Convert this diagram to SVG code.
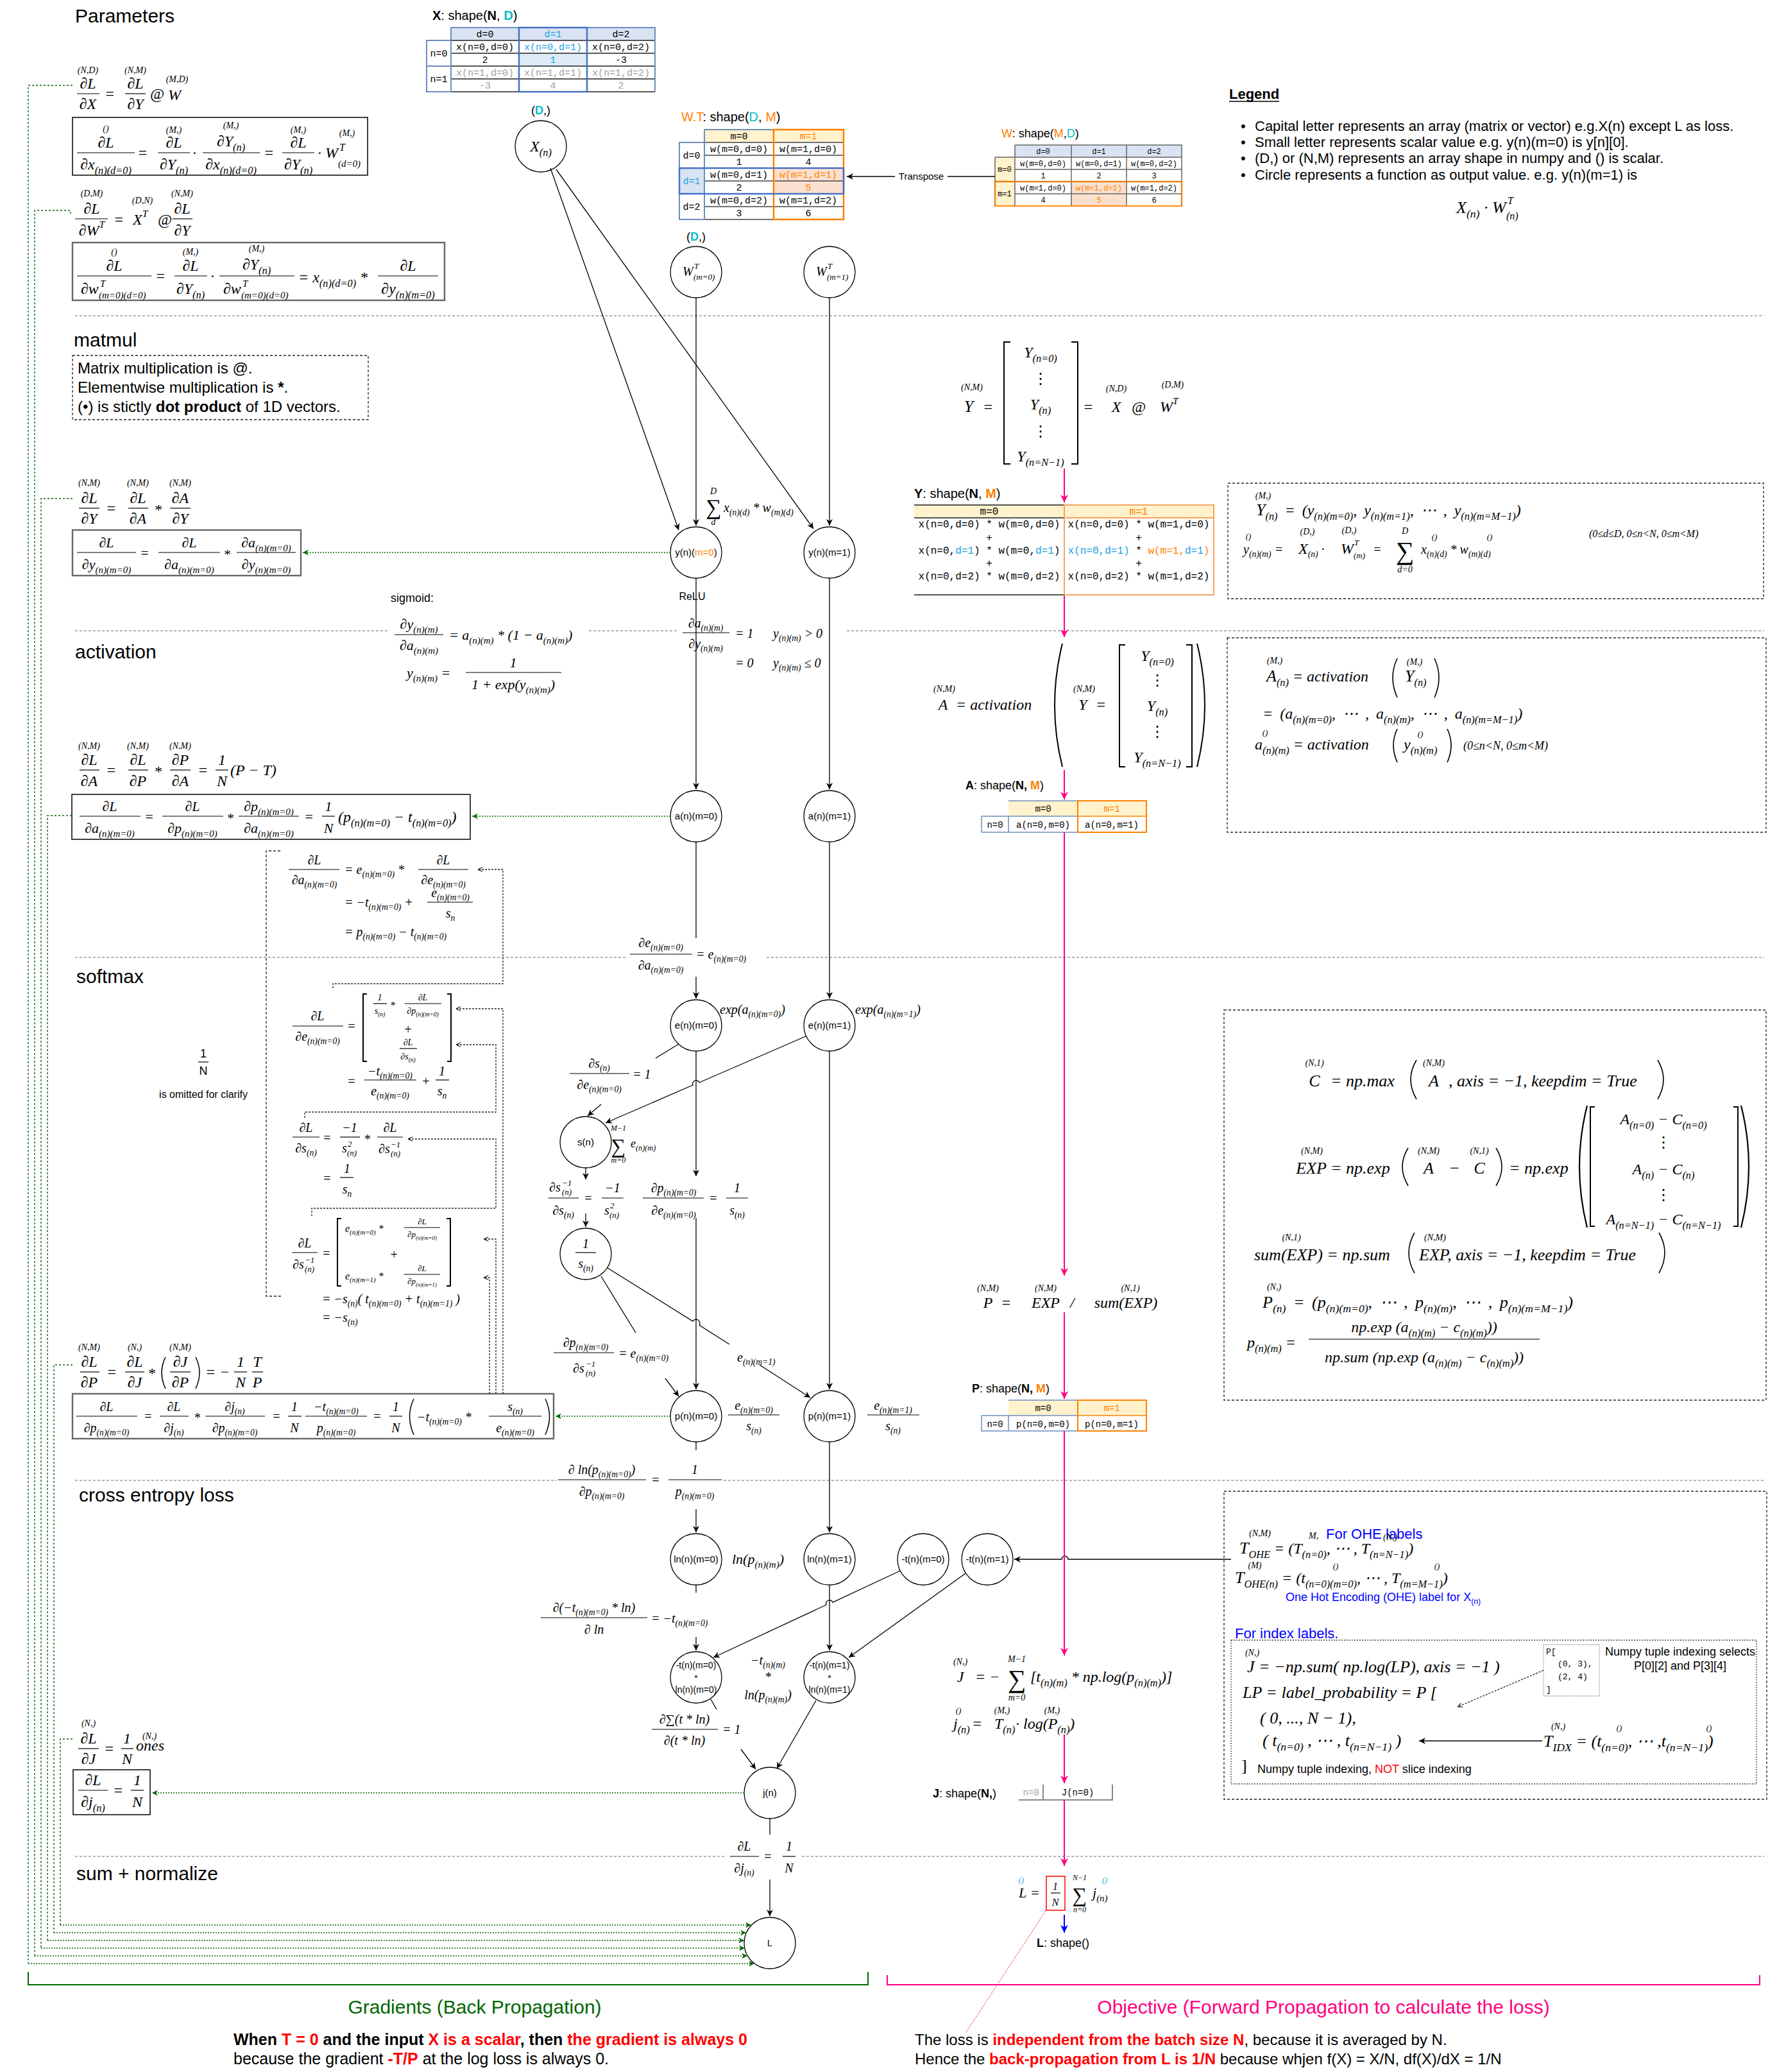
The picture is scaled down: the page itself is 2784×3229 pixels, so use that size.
<svg xmlns="http://www.w3.org/2000/svg" width="2784" height="3229" viewBox="0 0 2784 3229">
<defs>
<style>
text{fill:#000}
.t{font-family:"Liberation Sans",Arial,sans-serif}
.m{font-family:"Liberation Serif","Times New Roman",serif;font-style:italic}
.up{font-family:"Liberation Serif","Times New Roman",serif;font-style:normal}
.mono{font-family:"Liberation Mono","Courier New",monospace}
.f30{font-size:30px}.f28{font-size:28px}.f26{font-size:26px}.f24{font-size:24px}.f22{font-size:22px}.f20{font-size:20px}.f18{font-size:18px}.f16{font-size:16px}.f15{font-size:15px}.f14{font-size:14px}.f13{font-size:13px}.f12{font-size:12px}
.c{text-anchor:middle}
.b{font-size:68%;baseline-shift:-0.4em}
.p{font-size:65%;baseline-shift:0.8em}
.sh{font-size:14px}
.bd{font-weight:bold}
.fl{stroke:#000;stroke-width:1.2}
.node{fill:#fff;stroke:#000;stroke-width:1.3}
.e{fill:none;stroke:#000;stroke-width:1.3}
.ea{fill:none;stroke:#000;stroke-width:1.3;marker-end:url(#ab)}
.pk{fill:none;stroke:#FF0080;stroke-width:2;marker-end:url(#ap)}
.bla{fill:none;stroke:#0000FF;stroke-width:2;marker-end:url(#abl)}
.gd{fill:none;stroke:#006600;stroke-width:1.4;stroke-dasharray:3 3}
.gda{fill:none;stroke:#006600;stroke-width:1.6;stroke-dasharray:2 2;marker-end:url(#ag)}
.dk{fill:none;stroke:#222;stroke-width:1.3;stroke-dasharray:4 3}
.dka{fill:none;stroke:#222;stroke-width:1.3;stroke-dasharray:3 2;marker-end:url(#ad)}
.sep{stroke:#999;stroke-width:1.3;stroke-dasharray:4 3;fill:none}
.box{fill:none;stroke:#000;stroke-width:1.5}
.gbox{fill:none;stroke:#666;stroke-width:2.4}
.dbox{fill:none;stroke:#222;stroke-width:1.3;stroke-dasharray:4 3}
.brk{fill:none;stroke:#000;stroke-width:2}
.ws{word-spacing:5px}
.cy{fill:#00BFC8}.tb{fill:#1BA1E2}.or{fill:#FF8000}.rd{fill:#FF0000}.bl{fill:#0000FF}.gy{fill:#A0A0A0}.gr{fill:#006600}.pkt{fill:#FF0080}
</style>
<marker id="ab" viewBox="0 0 10 10" refX="10" refY="5" markerWidth="10" markerHeight="10" markerUnits="userSpaceOnUse" orient="auto"><path d="M0,0 L10,5 L0,10 L3,5 z" fill="#000"/></marker>
<marker id="ap" viewBox="0 0 10 10" refX="10" refY="5" markerWidth="12" markerHeight="12" markerUnits="userSpaceOnUse" orient="auto"><path d="M0,0 L10,5 L0,10 L3,5 z" fill="#FF0080"/></marker>
<marker id="abl" viewBox="0 0 10 10" refX="10" refY="5" markerWidth="12" markerHeight="12" markerUnits="userSpaceOnUse" orient="auto"><path d="M0,0 L10,5 L0,10 L3,5 z" fill="#0000FF"/></marker>
<marker id="ag" viewBox="0 0 10 10" refX="10" refY="5" markerWidth="9" markerHeight="9" markerUnits="userSpaceOnUse" orient="auto"><path d="M0,0 L10,5 L0,10 L3,5 z" fill="#006600"/></marker>
<marker id="ad" viewBox="0 0 10 10" refX="10" refY="5" markerWidth="8" markerHeight="8" markerUnits="userSpaceOnUse" orient="auto"><path d="M1,1 L10,5 L1,9" fill="none" stroke="#222" stroke-width="1.5"/></marker>
</defs>
<rect width="2784" height="3229" fill="#fff"/>

<g id="separators">
<line class="sep" x1="117" y1="492" x2="2750" y2="492"/>
<path class="sep" d="M117,983H606M918,983H1055M1320,983H2750"/>
<path class="sep" d="M117,1492H975M1195,1492H2750"/>
<path class="sep" d="M117,2307H868M1128,2307H2750"/>
<path class="sep" d="M117,2893H1132M1250,2893H2750"/>
</g>

<g id="titles" class="t">
<text class="f30" x="117" y="35">Parameters</text>
<text class="f30" x="115" y="540">matmul</text>
<text class="f30" x="117" y="1026">activation</text>
<text class="f30" x="119" y="1532">softmax</text>
<text class="f30" x="123" y="2340">cross entropy loss</text>
<text class="f30" x="119" y="2930">sum + normalize</text>
</g>

<!-- top-left gradients -->
<g id="f-dLdX" class="m f24">
<text class="sh c" x="137" y="114">(N,D)</text>
<text class="c" x="137" y="138">∂L</text><line class="fl" x1="120" y1="146" x2="155" y2="146"/><text class="c" x="137" y="170">∂X</text>
<text x="163" y="154">=</text>
<text class="sh c" x="211" y="114">(N,M)</text>
<text class="c" x="211" y="138">∂L</text><line class="fl" x1="195" y1="146" x2="227" y2="146"/><text class="c" x="211" y="170">∂Y</text>
<text x="234" y="154">@</text>
<text x="262" y="156">W</text><text class="sh c" x="276" y="128">(M,D)</text>
</g>
<g id="f-box-dx" class="m f24">
<rect class="box" x="113" y="183" width="460" height="90"/>
<text class="sh c" x="165" y="205">()</text>
<text class="c" x="165" y="230">∂L</text><line class="fl" x1="120" y1="238" x2="210" y2="238"/><text class="c" x="165" y="264">∂x<tspan class="b">(n)(d=0)</tspan></text>
<text x="214" y="246">=</text>
<text class="sh c" x="271" y="207">(M,)</text>
<text class="c" x="271" y="230">∂L</text><line class="fl" x1="246" y1="238" x2="296" y2="238"/><text class="c" x="271" y="264">∂Y<tspan class="b">(n)</tspan></text>
<text x="300" y="246">·</text>
<text class="sh c" x="360" y="200">(M,)</text>
<text class="c" x="360" y="228">∂Y<tspan class="b">(n)</tspan></text><line class="fl" x1="316" y1="238" x2="405" y2="238"/><text class="c" x="360" y="264">∂x<tspan class="b">(n)(d=0)</tspan></text>
<text x="411" y="246">=</text>
<text class="sh c" x="465" y="207">(M,)</text>
<text class="c" x="465" y="230">∂L</text><line class="fl" x1="440" y1="238" x2="490" y2="238"/><text class="c" x="465" y="264">∂Y<tspan class="b">(n)</tspan></text>
<text x="495" y="246">· W</text><text class="f16" x="529" y="235">T</text><text class="f15" x="527" y="260">(d=0)</text><text class="sh c" x="541" y="212">(M,)</text>
</g>
<g id="f-dLdW" class="m f24">
<text class="sh c" x="143" y="306">(D,M)</text>
<text class="c" x="143" y="333">∂L</text><line class="fl" x1="117" y1="341" x2="168" y2="341"/><text class="c" x="143" y="367">∂W<tspan class="p">T</tspan></text>
<text x="177" y="350">=</text>
<text class="sh c" x="222" y="317">(D,N)</text>
<text x="207" y="350">X<tspan class="p">T</tspan></text>
<text x="246" y="350">@</text>
<text class="sh c" x="284" y="306">(N,M)</text>
<text class="c" x="284" y="333">∂L</text><line class="fl" x1="269" y1="341" x2="300" y2="341"/><text class="c" x="284" y="367">∂Y</text>
</g>
<g id="f-box-dw" class="m f24">
<rect class="gbox" x="113" y="378" width="580" height="90"/>
<text class="sh c" x="178" y="397">()</text>
<text class="c" x="178" y="422">∂L</text><line class="fl" x1="120" y1="430" x2="236" y2="430"/>
<text x="126" y="458">∂w</text><text class="f15" x="156" y="447">T</text><text class="f15" x="154" y="465">(m=0)(d=0)</text>
<text x="242" y="438">=</text>
<text class="sh c" x="297" y="397">(M,)</text>
<text class="c" x="297" y="422">∂L</text><line class="fl" x1="272" y1="430" x2="323" y2="430"/><text class="c" x="297" y="458">∂Y<tspan class="b">(n)</tspan></text>
<text x="328" y="438">·</text>
<text class="sh c" x="400" y="392">(M,)</text>
<text class="c" x="400" y="420">∂Y<tspan class="b">(n)</tspan></text><line class="fl" x1="342" y1="430" x2="459" y2="430"/>
<text x="348" y="458">∂w</text><text class="f15" x="378" y="447">T</text><text class="f15" x="376" y="465">(m=0)(d=0)</text>
<text x="465" y="440">= x<tspan class="b">(n)(d=0)</tspan> *</text>
<text class="c" x="636" y="422">∂L</text><line class="fl" x1="589" y1="430" x2="683" y2="430"/><text class="c" x="636" y="458">∂y<tspan class="b">(n)(m=0)</tspan></text>
</g>

<!-- matmul -->
<g id="matmul-note" class="t f24">
<rect class="dbox" x="113" y="554" width="461" height="100"/>
<text x="121" y="582">Matrix multiplication is @.</text>
<text x="121" y="612">Elementwise multiplication is <tspan class="bd">*</tspan>.</text>
<text x="121" y="642">(•) is stictly <tspan class="bd">dot product</tspan> of 1D vectors.</text>
</g>
<g id="f-dLdY" class="m f24">
<text class="sh c" x="139" y="757">(N,M)</text>
<text class="c" x="139" y="784">∂L</text><line class="fl" x1="123" y1="792" x2="155" y2="792"/><text class="c" x="139" y="816">∂Y</text>
<text x="165" y="800">=</text>
<text class="sh c" x="215" y="757">(N,M)</text>
<text class="c" x="215" y="784">∂L</text><line class="fl" x1="200" y1="792" x2="231" y2="792"/><text class="c" x="215" y="816">∂A</text>
<text x="240" y="802">*</text>
<text class="sh c" x="281" y="757">(N,M)</text>
<text class="c" x="281" y="784">∂A</text><line class="fl" x1="265" y1="792" x2="297" y2="792"/><text class="c" x="281" y="816">∂Y</text>
</g>
<g id="f-box-dy" class="m f22">
<rect class="gbox" x="113" y="826" width="356" height="71"/>
<text class="c" x="166" y="853">∂L</text><line class="fl" x1="120" y1="861" x2="212" y2="861"/><text class="c" x="166" y="887">∂y<tspan class="b">(n)(m=0)</tspan></text>
<text x="218" y="869">=</text>
<text class="c" x="295" y="853">∂L</text><line class="fl" x1="247" y1="861" x2="343" y2="861"/><text class="c" x="295" y="887">∂a<tspan class="b">(n)(m=0)</tspan></text>
<text x="348" y="871">*</text>
<text class="c" x="415" y="853">∂a<tspan class="b">(n)(m=0)</tspan></text><line class="fl" x1="369" y1="861" x2="461" y2="861"/><text class="c" x="415" y="887">∂y<tspan class="b">(n)(m=0)</tspan></text>
</g>

<!-- activation formulas -->
<g id="f-sigmoid" class="m f22">
<text class="t f18" x="609" y="938" style="font-style:normal">sigmoid:</text>
<text class="c" x="653" y="980">∂y<tspan class="b">(n)(m)</tspan></text><line class="fl" x1="615" y1="989" x2="691" y2="989"/><text class="c" x="653" y="1013">∂a<tspan class="b">(n)(m)</tspan></text>
<text x="700" y="997">= a<tspan class="b">(n)(m)</tspan> * (1 − a<tspan class="b">(n)(m)</tspan>)</text>
<text x="634" y="1056">y<tspan class="b">(n)(m)</tspan> =</text>
<text class="c" x="800" y="1040">1</text><line class="fl" x1="726" y1="1048" x2="875" y2="1048"/><text class="c" x="800" y="1074">1 + exp(y<tspan class="b">(n)(m)</tspan>)</text>
</g>
<g id="f-relu" class="m f20">
<text class="c" x="1100" y="978">∂a<tspan class="b">(n)(m)</tspan></text><line class="fl" x1="1064" y1="986" x2="1137" y2="986"/><text class="c" x="1100" y="1010">∂y<tspan class="b">(n)(m)</tspan></text>
<text x="1146" y="994">= 1</text><text x="1205" y="994">y<tspan class="b">(n)(m)</tspan> &gt; 0</text>
<text x="1146" y="1040">= 0</text><text x="1205" y="1040">y<tspan class="b">(n)(m)</tspan> ≤ 0</text>
</g>
<g id="f-dLdA" class="m f24">
<text class="sh c" x="139" y="1167">(N,M)</text>
<text class="c" x="139" y="1192">∂L</text><line class="fl" x1="124" y1="1200" x2="155" y2="1200"/><text class="c" x="139" y="1225">∂A</text>
<text x="165" y="1208">=</text>
<text class="sh c" x="215" y="1167">(N,M)</text>
<text class="c" x="215" y="1192">∂L</text><line class="fl" x1="200" y1="1200" x2="231" y2="1200"/><text class="c" x="215" y="1225">∂P</text>
<text x="240" y="1210">*</text>
<text class="sh c" x="281" y="1167">(N,M)</text>
<text class="c" x="281" y="1192">∂P</text><line class="fl" x1="265" y1="1200" x2="297" y2="1200"/><text class="c" x="281" y="1225">∂A</text>
<text x="308" y="1208">=</text>
<text class="c" x="346" y="1192">1</text><line class="fl" x1="336" y1="1200" x2="356" y2="1200"/><text class="c" x="346" y="1225">N</text>
<text x="359" y="1208">(P − T)</text>
</g>
<g id="f-box-da" class="m f22">
<rect class="box" x="112" y="1238" width="621" height="70"/>
<text class="c" x="171" y="1264">∂L</text><line class="fl" x1="124" y1="1272" x2="219" y2="1272"/><text class="c" x="171" y="1298">∂a<tspan class="b">(n)(m=0)</tspan></text>
<text x="225" y="1280">=</text>
<text class="c" x="300" y="1264">∂L</text><line class="fl" x1="253" y1="1272" x2="348" y2="1272"/><text class="c" x="300" y="1298">∂p<tspan class="b">(n)(m=0)</tspan></text>
<text x="353" y="1282">*</text>
<text class="c" x="419" y="1264">∂p<tspan class="b">(n)(m=0)</tspan></text><line class="fl" x1="372" y1="1272" x2="466" y2="1272"/><text class="c" x="419" y="1298">∂a<tspan class="b">(n)(m=0)</tspan></text>
<text x="474" y="1280">=</text>
<text class="c" x="512" y="1264">1</text><line class="fl" x1="502" y1="1272" x2="522" y2="1272"/><text class="c" x="512" y="1298">N</text>
<text class="f24" x="527" y="1281">(p<tspan class="b">(n)(m=0)</tspan> − t<tspan class="b">(n)(m=0)</tspan>)</text>
</g>
<g id="f-deriv-da" class="m f20">
<text class="c" x="490" y="1347">∂L</text><line class="fl" x1="450" y1="1355" x2="529" y2="1355"/><text class="c" x="490" y="1378">∂a<tspan class="b">(n)(m=0)</tspan></text>
<text x="537" y="1362">= e<tspan class="b">(n)(m=0)</tspan> *</text>
<text class="c" x="691" y="1347">∂L</text><line class="fl" x1="652" y1="1355" x2="730" y2="1355"/><text class="c" x="691" y="1378">∂e<tspan class="b">(n)(m=0)</tspan></text>
<text x="537" y="1413">= −t<tspan class="b">(n)(m=0)</tspan> +</text>
<text class="c" x="702" y="1398">e<tspan class="b">(n)(m=0)</tspan></text><line class="fl" x1="666" y1="1406" x2="737" y2="1406"/><text class="c" x="702" y="1430">s<tspan class="b">n</tspan></text>
<text x="537" y="1459">= p<tspan class="b">(n)(m=0)</tspan> − t<tspan class="b">(n)(m=0)</tspan></text>
</g>

<!-- softmax derivations -->
<g id="note-clarify" class="t">
<text class="f18 c" x="317" y="1648">1</text><line class="fl" x1="309" y1="1655" x2="325" y2="1655"/><text class="f18 c" x="317" y="1675">N</text>
<text class="f16 c" x="317" y="1711">is omitted for clarify</text>
</g>
<g id="f-deriv-de" class="m f20">
<text class="c" x="495" y="1590">∂L</text><line class="fl" x1="456" y1="1599" x2="535" y2="1599"/><text class="c" x="495" y="1622">∂e<tspan class="b">(n)(m=0)</tspan></text>
<text x="541" y="1606">=</text>
<path class="brk" d="M572,1549H566V1654H572M697,1549H703V1654H697"/>
<text class="f14 c" x="592" y="1559">1</text><line class="fl" x1="582" y1="1564" x2="603" y2="1564"/><text class="f14 c" x="592" y="1580">s<tspan class="b">(n)</tspan></text>
<text class="f16" x="608" y="1572">*</text>
<text class="f14 c" x="659" y="1559">∂L</text><line class="fl" x1="631" y1="1564" x2="688" y2="1564"/><text class="f14 c" x="659" y="1580">∂p<tspan class="b">(n)(m=0)</tspan></text>
<text class="c" x="636" y="1611">+</text>
<text class="f14 c" x="636" y="1629">∂L</text><line class="fl" x1="623" y1="1634" x2="650" y2="1634"/><text class="f14 c" x="636" y="1651">∂s<tspan class="b">(n)</tspan></text>
<text x="541" y="1692">=</text>
<text class="c" x="608" y="1676">−t<tspan class="b">(n)(m=0)</tspan></text><line class="fl" x1="568" y1="1683" x2="649" y2="1683"/><text class="c" x="608" y="1707">e<tspan class="b">(n)(m=0)</tspan></text>
<text x="657" y="1692">+</text>
<text class="c" x="689" y="1676">1</text><line class="fl" x1="679" y1="1683" x2="700" y2="1683"/><text class="c" x="689" y="1707">s<tspan class="b">n</tspan></text>
</g>
<g id="f-deriv-ds" class="m f20">
<text class="c" x="477" y="1764">∂L</text><line class="fl" x1="456" y1="1772" x2="498" y2="1772"/><text class="c" x="477" y="1796">∂s<tspan class="b">(n)</tspan></text>
<text x="503" y="1780">=</text>
<text class="c" x="545" y="1764">−1</text><line class="fl" x1="530" y1="1772" x2="561" y2="1772"/><text x="533" y="1796">s</text><text class="f13" x="542" y="1787">2</text><text class="f13" x="541" y="1801">(n)</text>
<text x="567" y="1782">*</text>
<text class="c" x="608" y="1764">∂L</text><line class="fl" x1="588" y1="1772" x2="628" y2="1772"/><text x="590" y="1797">∂s</text><text class="f13" x="609" y="1788">−1</text><text class="f13" x="609" y="1802">(n)</text>
<text x="503" y="1843">=</text>
<text class="c" x="541" y="1828">1</text><line class="fl" x1="530" y1="1835" x2="551" y2="1835"/><text class="c" x="541" y="1860">s<tspan class="b">n</tspan></text>
</g>
<g id="f-deriv-dsinv" class="m f20">
<text class="c" x="475" y="1944">∂L</text><line class="fl" x1="455" y1="1952" x2="495" y2="1952"/><text x="456" y="1977">∂s</text><text class="f13" x="475" y="1968">−1</text><text class="f13" x="475" y="1982">(n)</text>
<text x="502" y="1960">=</text>
<path class="brk" d="M532,1899H526V2004H532M696,1899H702V2004H696"/>
<text class="f16" x="538" y="1920">e<tspan class="b">(n)(m=0)</tspan> *</text>
<text class="f13 c" x="658" y="1908">∂L</text><line class="fl" x1="630" y1="1913" x2="686" y2="1913"/><text class="f13 c" x="658" y="1928">∂p<tspan class="b">(n)(m=0)</tspan></text>
<text class="c" x="614" y="1962">+</text>
<text class="f16" x="538" y="1994">e<tspan class="b">(n)(m=1)</tspan> *</text>
<text class="f13 c" x="658" y="1981">∂L</text><line class="fl" x1="630" y1="1986" x2="686" y2="1986"/><text class="f13 c" x="658" y="2001">∂p<tspan class="b">(n)(m=1)</tspan></text>
<text x="502" y="2031">= −s<tspan class="b">(n)</tspan>( t<tspan class="b">(n)(m=0)</tspan> + t<tspan class="b">(n)(m=1)</tspan> )</text>
<text x="502" y="2060">= −s<tspan class="b">(n)</tspan></text>
</g>
<g id="f-dLdP" class="m f24">
<text class="sh c" x="139" y="2104">(N,M)</text>
<text class="c" x="139" y="2130">∂L</text><line class="fl" x1="125" y1="2138" x2="155" y2="2138"/><text class="c" x="139" y="2162">∂P</text>
<text x="166" y="2146">=</text>
<text class="sh c" x="210" y="2104">(N,)</text>
<text class="c" x="210" y="2130">∂L</text><line class="fl" x1="195" y1="2138" x2="225" y2="2138"/><text class="c" x="210" y="2162">∂J</text>
<text x="230" y="2148">*</text>
<path class="brk" d="M258,2115Q246,2139 258,2164M305,2115Q317,2139 305,2164" style="stroke-width:1.5"/>
<text class="sh c" x="281" y="2104">(N,M)</text>
<text class="c" x="281" y="2130">∂J</text><line class="fl" x1="265" y1="2138" x2="297" y2="2138"/><text class="c" x="281" y="2162">∂P</text>
<text x="320" y="2146">= −</text>
<text class="c" x="375" y="2130">1</text><line class="fl" x1="365" y1="2138" x2="385" y2="2138"/><text class="c" x="375" y="2162">N</text>
<text class="c" x="401" y="2130">T</text><line class="fl" x1="393" y1="2138" x2="410" y2="2138"/><text class="c" x="401" y="2162">P</text>
</g>
<g id="f-box-dp" class="m f20">
<rect class="gbox" x="113" y="2172" width="750" height="70"/>
<text class="c" x="166" y="2199">∂L</text><line class="fl" x1="119" y1="2207" x2="214" y2="2207"/><text class="c" x="166" y="2232">∂p<tspan class="b">(n)(m=0)</tspan></text>
<text x="224" y="2214">=</text>
<text class="c" x="271" y="2199">∂L</text><line class="fl" x1="249" y1="2207" x2="294" y2="2207"/><text class="c" x="271" y="2232">∂j<tspan class="b">(n)</tspan></text>
<text x="302" y="2216">*</text>
<text class="c" x="366" y="2199">∂j<tspan class="b">(n)</tspan></text><line class="fl" x1="320" y1="2207" x2="413" y2="2207"/><text class="c" x="366" y="2232">∂p<tspan class="b">(n)(m=0)</tspan></text>
<text x="424" y="2214">=</text>
<text class="c" x="459" y="2199">1</text><line class="fl" x1="449" y1="2207" x2="470" y2="2207"/><text class="c" x="459" y="2232">N</text>
<text class="c" x="524" y="2199">−t<tspan class="b">(n)(m=0)</tspan></text><line class="fl" x1="476" y1="2207" x2="572" y2="2207"/><text class="c" x="524" y="2232">p<tspan class="b">(n)(m=0)</tspan></text>
<text x="581" y="2214">=</text>
<text class="c" x="617" y="2199">1</text><line class="fl" x1="607" y1="2207" x2="627" y2="2207"/><text class="c" x="617" y="2232">N</text>
<path class="brk" d="M645,2180Q632,2207 645,2236M850,2180Q863,2207 850,2236" style="stroke-width:1.5"/>
<text x="650" y="2215">−t<tspan class="b">(n)(m=0)</tspan> *</text>
<text class="c" x="803" y="2199">s<tspan class="b">(n)</tspan></text><line class="fl" x1="762" y1="2207" x2="844" y2="2207"/><text class="c" x="803" y="2232">e<tspan class="b">(n)(m=0)</tspan></text>
</g>
<g id="f-dLdJ" class="m f24">
<text class="sh c" x="138" y="2690">(N,)</text>
<text class="c" x="138" y="2717">∂L</text><line class="fl" x1="122" y1="2725" x2="154" y2="2725"/><text class="c" x="138" y="2749">∂J</text>
<text x="162" y="2733">=</text>
<text class="c" x="198" y="2717">1</text><line class="fl" x1="189" y1="2725" x2="208" y2="2725"/><text class="c" x="198" y="2749">N</text>
<text x="212" y="2728">ones</text><text class="sh c" x="233" y="2710">(N,)</text>
</g>
<g id="f-box-dj" class="m f24">
<rect class="box" x="114" y="2758" width="120" height="70"/>
<text class="c" x="145" y="2782">∂L</text><line class="fl" x1="122" y1="2790" x2="168" y2="2790"/><text class="c" x="145" y="2816">∂j<tspan class="b">(n)</tspan></text>
<text x="176" y="2798">=</text>
<text class="c" x="214" y="2782">1</text><line class="fl" x1="204" y1="2790" x2="224" y2="2790"/><text class="c" x="214" y="2816">N</text>
</g>

<!-- dashed derivation links -->
<g id="derivation-links">
<path class="dk" d="M437,1326H415V2020H439"/>
<path class="dka" d="M519,1540V1533H784V1355H745"/>
<path class="dka" d="M784,2172V1572H711"/>
<path class="dka" d="M475,1742V1733H773V1628H711"/>
<path class="dka" d="M486,1895V1883H773V1775H636"/>
<path class="dka" d="M773,2172V1931H754"/>
<path class="dka" d="M763,2172V1991H754"/>
</g>

<!-- top tables -->
<g id="table-X" class="mono f15">
<text class="t f20" x="674" y="31" style="font-family:'Liberation Sans',Arial,sans-serif"><tspan class="bd">X</tspan>: shape(<tspan class="bd">N</tspan>, <tspan class="bd cy">D</tspan>)</text>
<rect x="703" y="43" width="318" height="20" fill="#DAE3F3"/>
<rect x="809" y="83" width="106" height="20" fill="#DDEBF7"/>
<path d="M703,63H1021M703,83H1021M703,103H1021M703,123H1021M703,143H1021" stroke="#222" stroke-width="1.5"/>
<path d="M703,43H1021V63M665,63H703V143H665ZM665,103H703M703,43V143M1021,63V143" fill="none" stroke="#6C8EBF" stroke-width="2"/>
<rect x="809" y="43" width="106" height="100" fill="none" stroke="#4472C4" stroke-width="2.5"/>
<text class="c" x="756" y="58">d=0</text><text class="c tb" x="862" y="58">d=1</text><text class="c" x="968" y="58">d=2</text>
<text class="c" x="684" y="88">n=0</text><text class="c" x="684" y="128">n=1</text>
<text class="c" x="756" y="78">x(n=0,d=0)</text><text class="c tb" x="862" y="78">x(n=0,d=1)</text><text class="c" x="968" y="78">x(n=0,d=2)</text>
<text class="c" x="756" y="98">2</text><text class="c tb" x="862" y="98">1</text><text class="c" x="968" y="98">-3</text>
<text class="c gy" x="756" y="118">x(n=1,d=0)</text><text class="c gy" x="862" y="118">x(n=1,d=1)</text><text class="c gy" x="968" y="118">x(n=1,d=2)</text>
<text class="c gy" x="756" y="138">-3</text><text class="c gy" x="862" y="138">4</text><text class="c gy" x="968" y="138">2</text>
</g>
<g id="table-WT" class="mono f15">
<text class="f20" x="1062" y="189" style="font-family:'Liberation Sans',Arial,sans-serif"><tspan class="or">W.T</tspan>: shape(<tspan class="cy">D</tspan>, <tspan class="or">M</tspan>)</text>
<rect x="1098" y="202" width="217" height="20" fill="#FFF2CC"/>
<rect x="1059" y="262" width="39" height="40" fill="#DAE3F3"/>
<rect x="1206" y="262" width="109" height="40" fill="#FBE0D0"/>
<path d="M1098,222H1315M1098,242H1315M1098,262H1315M1098,282H1315M1098,302H1315M1098,322H1315M1098,342H1315" stroke="#444" stroke-width="1.3"/>
<path d="M1098,202V342M1059,222H1098V342H1059ZM1059,262H1098M1059,302H1098M1098,202H1206V222" fill="none" stroke="#6C8EBF" stroke-width="2"/>
<rect x="1206" y="202" width="109" height="140" fill="none" stroke="#FF8000" stroke-width="2.5"/>
<rect x="1059" y="262" width="256" height="40" fill="none" stroke="#4472C4" stroke-width="2.5"/>
<text class="c" x="1152" y="217">m=0</text><text class="c or" x="1260" y="217">m=1</text>
<text class="c" x="1078" y="247">d=0</text><text class="c tb" x="1078" y="287">d=1</text><text class="c" x="1078" y="327">d=2</text>
<text class="c" x="1152" y="237">w(m=0,d=0)</text><text class="c" x="1152" y="257">1</text>
<text class="c" x="1260" y="237">w(m=1,d=0)</text><text class="c" x="1260" y="257">4</text>
<text class="c" x="1152" y="277">w(m=0,d=1)</text><text class="c" x="1152" y="297">2</text>
<text class="c or" x="1260" y="277">w(m=1,d=1)</text><text class="c or" x="1260" y="297">5</text>
<text class="c" x="1152" y="317">w(m=0,d=2)</text><text class="c" x="1152" y="337">3</text>
<text class="c" x="1260" y="317">w(m=1,d=2)</text><text class="c" x="1260" y="337">6</text>
</g>
<g id="table-W" class="mono f12">
<text class="f18" x="1561" y="214" style="font-family:'Liberation Sans',Arial,sans-serif"><tspan class="or">W</tspan>: shape(<tspan class="or">M</tspan>,<tspan class="cy">D</tspan>)</text>
<rect x="1582" y="226" width="260" height="19" fill="#DAE3F3"/>
<rect x="1551" y="245" width="31" height="76" fill="#FFF2CC"/>
<rect x="1670" y="283" width="86" height="38" fill="#FBE0D0"/>
<path d="M1582,226H1842V321M1582,245H1842M1582,264H1842M1551,283H1842M1582,302H1842M1551,245H1582M1582,226V321M1670,226V321M1756,226V321M1551,245V321" fill="none" stroke="#666" stroke-width="1.5"/>
<rect x="1551" y="283" width="291" height="38" fill="none" stroke="#FF8000" stroke-width="2.5" stroke-opacity="0.8"/>
<g fill="#555">
<text class="c" x="1626" y="240" fill="#555">d=0</text><text class="c" x="1713" y="240">d=1</text><text class="c" x="1799" y="240">d=2</text>
<text class="c" x="1566" y="268">m=0</text><text class="c" x="1566" y="306">m=1</text>
<text class="c" x="1626" y="259">w(m=0,d=0)</text><text class="c" x="1713" y="259">w(m=0,d=1)</text><text class="c" x="1799" y="259">w(m=0,d=2)</text>
<text class="c" x="1626" y="278">1</text><text class="c" x="1713" y="278">2</text><text class="c" x="1799" y="278">3</text>
<text class="c" x="1626" y="297">w(m=1,d=0)</text><text class="c or" x="1713" y="297">w(m=1,d=1)</text><text class="c" x="1799" y="297">w(m=1,d=2)</text>
<text class="c" x="1626" y="316">4</text><text class="c or" x="1713" y="316">5</text><text class="c" x="1799" y="316">6</text>
</g>
</g>
<g id="transpose">
<line class="ea" x1="1551" y1="275" x2="1320" y2="275"/>
<rect x="1395" y="265" width="82" height="20" fill="#fff"/>
<text class="t f15 c" x="1436" y="280">Transpose</text>
</g>
<g id="legend" class="t f22">
<text class="bd" x="1916" y="154">Legend</text><line x1="1916" y1="158" x2="1994" y2="158" stroke="#000" stroke-width="1.5"/>
<text x="1934" y="204">•</text><text x="1956" y="204">Capital letter represents an array (matrix or vector) e.g.X(n) except L as loss.</text>
<text x="1934" y="229">•</text><text x="1956" y="229">Small letter represents scalar value e.g. y(n)(m=0) is y[n][0].</text>
<text x="1934" y="254">•</text><text x="1956" y="254">(D,) or (N,M) represents an array shape in numpy and () is scalar.</text>
<text x="1934" y="280">•</text><text x="1956" y="280">Circle represents a function as output value. e.g. y(n)(m=1) is</text>
<text class="m f26" x="2270" y="332">X<tspan class="b">(n)</tspan> · W</text><text class="m f16" x="2350" y="318">T</text><text class="m f16" x="2348" y="342">(n)</text>
</g>

<!-- forward: Y -->
<g id="f-Y" class="m f24">
<text class="sh c" x="1515" y="608">(N,M)</text><text class="f26 c" x="1510" y="642">Y</text><text x="1532" y="642">=</text>
<path class="brk" d="M1575,533H1565V723H1575M1670,533H1680V723H1670"/>
<text class="c" x="1622" y="557">Y<tspan class="b">(n=0)</tspan></text>
<text class="c up" x="1622" y="598">⋮</text>
<text class="c" x="1622" y="638">Y<tspan class="b">(n)</tspan></text>
<text class="c up" x="1622" y="680">⋮</text>
<text class="c" x="1622" y="719">Y<tspan class="b">(n=N−1)</tspan></text>
<text x="1688" y="642">=</text>
<text class="sh c" x="1740" y="610">(N,D)</text><text class="c" x="1740" y="642">X</text>
<text x="1764" y="642">@</text>
<text class="sh c" x="1828" y="604">(D,M)</text><text x="1808" y="642">W<tspan class="p">T</tspan></text>
</g>
<g id="table-Y" class="mono f16">
<text class="t f20" x="1425" y="776" style="font-family:'Liberation Sans',Arial,sans-serif"><tspan class="bd">Y</tspan>: shape(<tspan class="bd">N</tspan>, <tspan class="bd or">M</tspan>)</text>
<rect x="1425" y="787" width="467" height="20" fill="#FFF2CC"/>
<path d="M1425,787H1659M1425,807H1659M1425,927H1659" stroke="#555" stroke-width="2" fill="none"/>
<rect x="1659" y="787" width="233" height="140" fill="none" stroke="#F4A460" stroke-width="2"/>
<line x1="1659" y1="807" x2="1892" y2="807" stroke="#F4A460" stroke-width="2"/>
<text class="c" x="1542" y="802">m=0</text><text class="c or" x="1775" y="802">m=1</text>
<text class="c" x="1542" y="822">x(n=0,d=0) * w(m=0,d=0)</text>
<text class="c" x="1542" y="843">+</text>
<text class="c" x="1542" y="863">x(n=0,<tspan class="tb">d=1</tspan>) * w(m=0,<tspan class="tb">d=1</tspan>)</text>
<text class="c" x="1542" y="883">+</text>
<text class="c" x="1542" y="903">x(n=0,d=2) * w(m=0,d=2)</text>
<text class="c" x="1775" y="822">x(n=0,d=0) * w(m=1,d=0)</text>
<text class="c" x="1775" y="843">+</text>
<text class="c" x="1775" y="863"><tspan class="tb">x(n=0,d=1)</tspan> * <tspan class="or">w(m=1,</tspan><tspan class="tb">d=1</tspan><tspan class="or">)</tspan></text>
<text class="c" x="1775" y="883">+</text>
<text class="c" x="1775" y="903">x(n=0,d=2) * w(m=1,d=2)</text>
</g>
<g id="box-Yn" class="m f20">
<rect class="dbox" x="1914" y="753" width="835" height="180"/>
<text class="sh c" x="1969" y="777">(M,)</text>
<text class="f24 ws" x="1958" y="803"><tspan class="f26">Y</tspan><tspan class="b">(n)</tspan> = (y<tspan class="b">(n)(m=0)</tspan>, y<tspan class="b">(n)(m=1)</tspan>, ⋯ , y<tspan class="b">(n)(m=M−1)</tspan>)</text>
<text class="f13 c" x="1946" y="840">()</text>
<text x="1938" y="863">y<tspan class="b">(n)(m)</tspan> =</text>
<text class="sh c" x="2038" y="833">(D,)</text><text x="2024" y="863"><tspan class="f24">X</tspan><tspan class="b">(n)</tspan> ·</text>
<text class="sh c" x="2103" y="831">(D,)</text><text class="f24" x="2090" y="863">W</text><text class="f13" x="2111" y="850">T</text><text class="f13" x="2110" y="870">(m)</text>
<text x="2140" y="863">=</text>
<text class="up c" x="2190" y="872" style="font-size:40px">∑</text><text class="f14 c" x="2190" y="832">D</text><text class="f14 c" x="2190" y="892">d=0</text>
<text class="f13 c" x="2236" y="841">()</text><text class="f13 c" x="2322" y="841">()</text>
<text x="2215" y="863">x<tspan class="b">(n)(d)</tspan> * w<tspan class="b">(m)(d)</tspan></text>
<text class="f16" x="2477" y="837">(0≤d≤D, 0≤n&lt;N, 0≤m&lt;M)</text>
</g>

<!-- forward: A -->
<g id="f-A" class="m f24">
<text class="sh c" x="1472" y="1078">(N,M)</text><text class="c" x="1470" y="1106">A</text>
<text x="1490" y="1106">= activation</text>
<path class="brk" d="M1656,1003Q1632,1099 1656,1195"/>
<text class="sh c" x="1690" y="1078">(N,M)</text><text class="c" x="1688" y="1106">Y</text>
<text x="1708" y="1106">=</text>
<path class="brk" d="M1754,1005H1745V1195H1754M1849,1005H1858V1195H1849"/>
<text class="c" x="1804" y="1030">Y<tspan class="b">(n=0)</tspan></text>
<text class="c up" x="1804" y="1068">⋮</text>
<text class="c" x="1804" y="1108">Y<tspan class="b">(n)</tspan></text>
<text class="c up" x="1804" y="1148">⋮</text>
<text class="c" x="1804" y="1188">Y<tspan class="b">(n=N−1)</tspan></text>
<path class="brk" d="M1866,1003Q1890,1099 1866,1195"/>
</g>
<g id="table-A" class="mono f14">
<text class="t f18" x="1505" y="1230" style="font-family:'Liberation Sans',Arial,sans-serif"><tspan class="bd">A</tspan>: shape(<tspan class="bd">N,</tspan> <tspan class="bd or">M</tspan>)</text>
<rect x="1572" y="1248" width="215" height="24" fill="#FFF2CC"/>
<path d="M1530,1272H1680V1297H1530ZM1572,1272V1297M1572,1248H1680V1272" fill="none" stroke="#6C8EBF" stroke-width="1.5"/>
<rect x="1680" y="1248" width="107" height="49" fill="none" stroke="#FF8000" stroke-width="2"/>
<line x1="1680" y1="1272" x2="1787" y2="1272" stroke="#FF8000" stroke-width="1.5"/>
<text class="c" x="1626" y="1265">m=0</text><text class="c or" x="1733" y="1265">m=1</text>
<text class="c" x="1551" y="1290">n=0</text><text class="c" x="1626" y="1290">a(n=0,m=0)</text><text class="c" x="1733" y="1290">a(n=0,m=1)</text>
</g>
<g id="box-A" class="m f24">
<rect class="dbox" x="1913" y="994" width="840" height="303"/>
<text class="sh c" x="1987" y="1034">(M,)</text>
<text x="1974" y="1062"><tspan class="f26">A</tspan><tspan class="b">(n)</tspan> = activation</text>
<path class="brk" d="M2178,1026Q2164,1056 2178,1087M2236,1026Q2250,1056 2236,1087" style="stroke-width:1.6"/>
<text class="sh c" x="2205" y="1036">(M,)</text><text x="2190" y="1062"><tspan class="f26">Y</tspan><tspan class="b">(n)</tspan></text>
<text class="ws" x="1968" y="1120">= (a<tspan class="b">(n)(m=0)</tspan>, ⋯ , a<tspan class="b">(n)(m)</tspan>, ⋯ , a<tspan class="b">(n)(m=M−1)</tspan>)</text>
<text class="f13 c" x="1972" y="1146">()</text>
<text x="1956" y="1168">a<tspan class="b">(n)(m)</tspan> = activation</text>
<path class="brk" d="M2178,1136Q2166,1161 2178,1188M2256,1136Q2268,1161 2256,1188" style="stroke-width:1.6"/>
<text class="f13 c" x="2214" y="1148">()</text><text x="2188" y="1168">y<tspan class="b">(n)(m)</tspan></text>
<text class="f18" x="2281" y="1168">(0≤n&lt;N, 0≤m&lt;M)</text>
</g>

<!-- forward: P -->
<g id="f-P" class="m f24">
<text class="sh c" x="1540" y="2012">(N,M)</text><text class="c" x="1540" y="2038">P</text>
<text x="1560" y="2038">=</text>
<text class="sh c" x="1630" y="2012">(N,M)</text><text class="c" x="1630" y="2038">EXP</text>
<text x="1668" y="2038">/</text>
<text class="sh c" x="1762" y="2012">(N,1)</text><text class="c" x="1755" y="2038">sum(EXP)</text>
</g>
<g id="table-P" class="mono f14">
<text class="t f18" x="1515" y="2170" style="font-family:'Liberation Sans',Arial,sans-serif"><tspan class="bd">P</tspan>: shape(<tspan class="bd">N,</tspan> <tspan class="bd or">M</tspan>)</text>
<rect x="1572" y="2182" width="215" height="24" fill="#FFF2CC"/>
<path d="M1530,2206H1680V2230H1530ZM1572,2206V2230M1572,2182H1680V2206" fill="none" stroke="#6C8EBF" stroke-width="1.5"/>
<rect x="1680" y="2182" width="107" height="48" fill="none" stroke="#FF8000" stroke-width="2"/>
<line x1="1680" y1="2206" x2="1787" y2="2206" stroke="#FF8000" stroke-width="1.5"/>
<text class="c" x="1626" y="2199">m=0</text><text class="c or" x="1733" y="2199">m=1</text>
<text class="c" x="1551" y="2224">n=0</text><text class="c" x="1626" y="2224">p(n=0,m=0)</text><text class="c" x="1733" y="2224">p(n=0,m=1)</text>
</g>
<g id="box-softmax" class="m f26">
<rect class="dbox" x="1908" y="1574" width="845" height="608"/>
<text class="sh c" x="2049" y="1661">(N,1)</text><text class="c" x="2049" y="1693">C</text>
<text x="2074" y="1693">= np.max</text>
<path class="brk" d="M2208,1652Q2190,1682 2208,1713M2584,1652Q2602,1682 2584,1713" style="stroke-width:1.6"/>
<text class="sh c" x="2235" y="1661">(N,M)</text><text class="c" x="2235" y="1693">A</text>
<text x="2258" y="1693">, axis = −1, keepdim = True</text>
<text class="sh c" x="2045" y="1798">(N,M)</text><text class="c" x="2044" y="1829">EXP</text>
<text x="2074" y="1829">= np.exp</text>
<path class="brk" d="M2195,1789Q2177,1818 2195,1848M2332,1789Q2350,1818 2332,1848" style="stroke-width:1.6"/>
<text class="sh c" x="2227" y="1798">(N,M)</text><text class="c" x="2227" y="1829">A</text>
<text x="2258" y="1829">−</text>
<text class="sh c" x="2306" y="1798">(N,1)</text><text class="c" x="2306" y="1829">C</text>
<text x="2352" y="1829">= np.exp</text>
<path class="brk" d="M2474,1723Q2450,1818 2474,1913M2714,1723Q2738,1818 2714,1913" style="stroke-width:2.2"/>
<path class="brk" d="M2486,1725H2479V1911H2486M2702,1725H2709V1911H2702"/>
<g class="f24">
<text class="c" x="2593" y="1752">A<tspan class="b">(n=0)</tspan> − C<tspan class="b">(n=0)</tspan></text>
<text class="c up" x="2593" y="1788">⋮</text>
<text class="c" x="2593" y="1830">A<tspan class="b">(n)</tspan> − C<tspan class="b">(n)</tspan></text>
<text class="c up" x="2593" y="1870">⋮</text>
<text class="c" x="2593" y="1908">A<tspan class="b">(n=N−1)</tspan> − C<tspan class="b">(n=N−1)</tspan></text>
</g>
<text class="sh c" x="2013" y="1933">(N,1)</text>
<text x="1955" y="1964">sum(EXP) = np.sum</text>
<path class="brk" d="M2205,1921Q2187,1952 2205,1984M2586,1921Q2604,1952 2586,1984" style="stroke-width:1.6"/>
<text class="sh c" x="2237" y="1933">(N,M)</text>
<text x="2212" y="1964">EXP, axis = −1, keepdim = True</text>
<text class="sh c" x="1986" y="2010">(N,)</text>
<text class="ws" x="1968" y="2038">P<tspan class="b">(n)</tspan> = (p<tspan class="b">(n)(m=0)</tspan>, ⋯ , p<tspan class="b">(n)(m)</tspan>, ⋯ , p<tspan class="b">(n)(m=M−1)</tspan>)</text>
<text class="f24" x="1944" y="2100">p<tspan class="b">(n)(m)</tspan> =</text>
<line class="fl" x1="2040" y1="2087" x2="2400" y2="2087" style="stroke:#777;stroke-width:2"/>
<text class="f24 c" x="2220" y="2076">np.exp (a<tspan class="b">(n)(m)</tspan> − c<tspan class="b">(n)(m)</tspan>))</text>
<text class="f24 c" x="2220" y="2123">np.sum (np.exp (a<tspan class="b">(n)(m)</tspan> − c<tspan class="b">(n)(m)</tspan>))</text>
</g>

<!-- forward: J, L -->
<g id="f-J" class="m f24">
<text class="sh c" x="1497" y="2594">(N,)</text><text class="c" x="1497" y="2621">J</text>
<text x="1520" y="2621">= −</text>
<text class="up c" x="1585" y="2630" style="font-size:40px">∑</text><text class="f14 c" x="1585" y="2590">M−1</text><text class="f14 c" x="1585" y="2650">m=0</text>
<text x="1606" y="2621">[t<tspan class="b">(n)(m)</tspan> * np.log(p<tspan class="b">(n)(m)</tspan>)]</text>
<text class="f13 c" x="1494" y="2670">()</text><text x="1486" y="2694">j<tspan class="b">(n)</tspan></text>
<text x="1515" y="2694">=</text>
<text class="sh c" x="1562" y="2670">(M,)</text><text x="1550" y="2694">T<tspan class="b">(n)</tspan></text>
<text class="sh c" x="1640" y="2670">(M,)</text><text x="1583" y="2694">· log(P<tspan class="b">(n)</tspan>)</text>
</g>
<g id="table-J" class="mono f14">
<text class="t f18" x="1454" y="2801" style="font-family:'Liberation Sans',Arial,sans-serif"><tspan class="bd">J</tspan>: shape(<tspan class="bd">N,</tspan>)</text>
<path d="M1588,2805H1734V2781M1626,2781V2805" fill="none" stroke="#888" stroke-width="2"/>
<text class="c gy" x="1607" y="2798" fill="#777">n=0</text><text class="c" x="1680" y="2798" fill="#555">J(n=0)</text>
</g>
<g id="f-L" class="m f22">
<text class="f12 c tb" x="1592" y="2934">()</text><text class="c" x="1594" y="2957">L</text>
<text x="1606" y="2957">=</text>
<rect x="1631" y="2924" width="29" height="53" fill="none" stroke="#FF0000" stroke-width="1.5"/>
<text class="f16 c" x="1645" y="2945">1</text><line class="fl" x1="1638" y1="2950" x2="1653" y2="2950"/><text class="f16 c" x="1645" y="2970">N</text>
<text class="up c" x="1683" y="2964" style="font-size:32px">∑</text><text class="f12 c" x="1683" y="2930">N−1</text><text class="f12 c" x="1683" y="2980">n=0</text>
<text class="f12 c tb" x="1722" y="2934">()</text><text x="1703" y="2957">j<tspan class="b">(n)</tspan></text>
</g>
<text class="t f18" x="1616" y="3034"><tspan class="bd">L</tspan>: shape()</text>

<!-- cross entropy box -->
<g id="box-ce" class="m f24">
<rect class="dbox" x="1908" y="2324" width="846" height="480"/>
<text class="sh c" x="1964" y="2394">(N,M)</text>
<text class="sh" x="2040" y="2398">M,</text>
<text class="t f22 bl" x="2067" y="2398" style="font-style:normal">For OHE labels</text>
<text class="sh" x="2156" y="2400">(N,)</text>
<text x="1932" y="2421"><tspan class="f26">T</tspan><tspan class="b">OHE</tspan> = (T<tspan class="b">(n=0)</tspan>, ⋯ , T<tspan class="b">(n=N−1)</tspan>)</text>
<text class="sh c" x="1956" y="2444">(M)</text>
<text class="f13 c" x="2082" y="2445">()</text><text class="f13 c" x="2240" y="2445">()</text>
<text x="1925" y="2467"><tspan class="f26">T</tspan><tspan class="b">OHE(n)</tspan> = (t<tspan class="b">(n=0)(m=0)</tspan>, ⋯ , T<tspan class="b">(m=M−1)</tspan>)</text>
<text class="t f18 bl" x="2004" y="2495" style="font-style:normal">One Hot Encoding (OHE) label for X<tspan class="b">(n)</tspan></text>
<text class="t f22 bl" x="1925" y="2553" style="font-style:normal">For index labels.</text>
<rect x="1919" y="2556" width="819" height="224" fill="none" stroke="#444" stroke-width="1.3" stroke-dasharray="2 2"/>
<text class="sh c" x="1952" y="2580">(N,)</text>
<text class="f26" x="1944" y="2606">J = −np.sum( np.log(LP), axis = −1 )</text>
<text class="f26" x="1937" y="2646">LP = label_probability = P [</text>
<text class="f26" x="1964" y="2686">( 0, ..., N − 1),</text>
<text class="f26" x="1968" y="2721">( t<tspan class="b">(n=0)</tspan> , ⋯ , t<tspan class="b">(n=N−1)</tspan> )</text>
<line class="ea" x1="2404" y1="2713" x2="2212" y2="2713"/>
<text class="sh c" x="2429" y="2695">(N,)</text>
<text class="f13 c" x="2524" y="2697">()</text><text class="f13 c" x="2664" y="2697">()</text>
<text class="f26" x="2406" y="2722">T<tspan class="b">IDX</tspan> = (t<tspan class="b">(n=0)</tspan>, ⋯ ,t<tspan class="b">(n=N−1)</tspan>)</text>
<text class="f26" x="1935" y="2760" style="font-style:normal">]</text>
<text class="t f18" x="1960" y="2763" style="font-style:normal">Numpy tuple indexing, <tspan class="rd">NOT</tspan> slice indexing</text>
<rect x="2406" y="2563" width="87" height="80" fill="none" stroke="#999" stroke-width="1.3" stroke-dasharray="1 1"/>
<g class="mono f13" style="font-style:normal">
<text x="2410" y="2578">P[</text><text x="2428" y="2597">(0, 3),</text><text x="2428" y="2617">(2, 4)</text><text x="2410" y="2637">]</text>
</g>
<text class="t f18 c" x="2619" y="2580" style="font-style:normal">Numpy tuple indexing selects</text>
<text class="t f18 c" x="2619" y="2602" style="font-style:normal">P[0][2] and P[3][4]</text>
<line class="dka" x1="2406" y1="2603" x2="2272" y2="2660"/>
</g>

<!-- nodes -->
<g id="node-Xn"><circle class="node" cx="843" cy="228" r="40"/><text class="m f24 c" x="843" y="236">X<tspan class="b">(n)</tspan></text><text class="t f18 c" x="843" y="178">(<tspan class="cy bd">D</tspan>,)</text></g>
<g id="node-WT0"><circle class="node" cx="1085" cy="424" r="40"/><text class="m f20" x="1064" y="430">W</text><text class="m f13" x="1082" y="419">T</text><text class="m f13" x="1081" y="436">(m=0)</text><text class="t f18 c" x="1085" y="375">(<tspan class="cy bd">D</tspan>,)</text></g>
<g id="node-WT1"><circle class="node" cx="1293" cy="424" r="40"/><text class="m f20" x="1272" y="430">W</text><text class="m f13" x="1290" y="419">T</text><text class="m f13" x="1289" y="436">(m=1)</text></g>
<g id="node-y0"><circle class="node" cx="1085" cy="861" r="40"/><text class="t f15 c" x="1085" y="866">y(n)(<tspan class="or">m=0</tspan>)</text></g>
<g id="node-y1"><circle class="node" cx="1293" cy="861" r="40"/><text class="t f15 c" x="1293" y="866">y(n)(m=1)</text></g>
<g id="node-a0"><circle class="node" cx="1085" cy="1272" r="40"/><text class="t f15 c" x="1085" y="1277">a(n)(m=0)</text></g>
<g id="node-a1"><circle class="node" cx="1293" cy="1272" r="40"/><text class="t f15 c" x="1293" y="1277">a(n)(m=1)</text></g>
<g id="node-e0"><circle class="node" cx="1085" cy="1598" r="40"/><text class="t f15 c" x="1085" y="1603">e(n)(m=0)</text></g>
<g id="node-e1"><circle class="node" cx="1293" cy="1598" r="40"/><text class="t f15 c" x="1293" y="1603">e(n)(m=1)</text></g>
<g id="node-s"><circle class="node" cx="913" cy="1780" r="40"/><text class="t f15 c" x="913" y="1785">s(n)</text></g>
<g id="node-sinv"><circle class="node" cx="913" cy="1954" r="40"/><text class="m f20 c" x="913" y="1945">1</text><line class="fl" x1="897" y1="1952" x2="929" y2="1952"/><text class="m f20 c" x="913" y="1976">s<tspan class="b">(n)</tspan></text></g>
<g id="node-p0"><circle class="node" cx="1085" cy="2207" r="40"/><text class="t f15 c" x="1085" y="2212">p(n)(m=0)</text></g>
<g id="node-p1"><circle class="node" cx="1293" cy="2207" r="40"/><text class="t f15 c" x="1293" y="2212">p(n)(m=1)</text></g>
<g id="node-ln0"><circle class="node" cx="1085" cy="2430" r="40"/><text class="t f15 c" x="1085" y="2435">ln(n)(m=0)</text></g>
<g id="node-ln1"><circle class="node" cx="1293" cy="2430" r="40"/><text class="t f15 c" x="1293" y="2435">ln(n)(m=1)</text></g>
<g id="node-t0"><circle class="node" cx="1439" cy="2430" r="40"/><text class="t f15 c" x="1439" y="2435">-t(n)(m=0)</text></g>
<g id="node-t1"><circle class="node" cx="1539" cy="2430" r="40"/><text class="t f15 c" x="1539" y="2435">-t(n)(m=1)</text></g>
<g id="node-prod0"><circle class="node" cx="1085" cy="2614" r="40"/><text class="t f14 c" x="1085" y="2600">-t(n)(m=0)</text><text class="t f14 c" x="1085" y="2620">*</text><text class="t f14 c" x="1085" y="2638">ln(n)(m=0)</text></g>
<g id="node-prod1"><circle class="node" cx="1293" cy="2614" r="40"/><text class="t f14 c" x="1293" y="2600">-t(n)(m=1)</text><text class="t f14 c" x="1293" y="2620">*</text><text class="t f14 c" x="1293" y="2638">ln(n)(m=1)</text></g>
<g id="node-j"><circle class="node" cx="1200" cy="2794" r="40"/><text class="t f15 c" x="1200" y="2799">j(n)</text></g>
<g id="node-L"><circle class="node" cx="1200" cy="3028" r="40"/><text class="t f14 c" x="1200" y="3033">L</text></g>

<!-- connectors -->
<g id="connectors">
<path class="ea" d="M858,262L1058,826"/>
<path class="ea" d="M867,264L1268,824"/>
<path class="ea" d="M1085,464V819"/>
<path class="ea" d="M1293,464V819"/>
<path class="ea" d="M1085,901V1230"/>
<path class="ea" d="M1293,901V1230"/>
<path class="e" d="M1085,1312V1462"/>
<path class="ea" d="M1085,1522V1556"/>
<path class="ea" d="M1293,1312V1556"/>
<path class="e" d="M1058,1627L1022,1649"/>
<path class="ea" d="M937,1721L916,1739"/>
<path class="ea" d="M1256,1615L1090,1687A5,5 0 0 0 1080,1691L944,1750"/>
<path class="ea" d="M1085,1638V1833"/>
<path class="ea" d="M1085,1898V2165"/>
<path class="ea" d="M1293,1638V2165"/>
<path class="ea" d="M913,1820V1838"/>
<path class="ea" d="M913,1891V1912"/>
<path class="e" d="M937,1989L991,2077"/>
<path class="ea" d="M1037,2148L1058,2176"/>
<path class="e" d="M947,1976L1080,2059A5,5 0 0 1 1090,2065L1137,2095"/>
<path class="ea" d="M1184,2127L1263,2178"/>
<path class="e" d="M1085,2247V2260"/>
<path class="ea" d="M1085,2352V2388"/>
<path class="ea" d="M1293,2247V2388"/>
<path class="e" d="M1085,2470V2482"/>
<path class="ea" d="M1085,2551V2572"/>
<path class="ea" d="M1293,2470V2572"/>
<path class="ea" d="M1403,2448L1298,2497A5,5 0 0 0 1288,2501L1112,2583"/>
<path class="ea" d="M1505,2452L1323,2583"/>
<path class="e" d="M1108,2648L1117,2664"/>
<path class="ea" d="M1155,2726L1178,2757"/>
<path class="ea" d="M1272,2650L1211,2756"/>
<path class="e" d="M1200,2834V2859"/>
<path class="ea" d="M1200,2929V2986"/>
<path class="ea" d="M1919,2430H1665A5,5 0 0 0 1655,2430H1581"/>
<path class="pk" d="M1659,730V783"/>
<path class="pk" d="M1659,928V993"/>
<path class="pk" d="M1659,1200V1246"/>
<path class="pk" d="M1659,1297V1988"/>
<path class="pk" d="M1659,2045V2180"/>
<path class="pk" d="M1659,2230V2580"/>
<path class="pk" d="M1659,2703V2779"/>
<path class="pk" d="M1659,2805V2908"/>
<path class="bla" d="M1659,2984V3012"/>
<line x1="1630" y1="2978" x2="1506" y2="3167" stroke="#FF0000" stroke-width="1" stroke-dasharray="2 2"/>
<path class="gda" d="M1045,861H472"/>
<path class="gda" d="M1045,1272H736"/>
<path class="gda" d="M1045,2207H866"/>
<path class="gda" d="M1160,2794H237"/>
<path class="gd" d="M113,133H44V3060"/><path class="gda" d="M44,3060H1176"/>
<path class="gd" d="M110,333V328H54V3048"/><path class="gda" d="M54,3048H1165"/>
<path class="gd" d="M113,777H64V3036"/><path class="gda" d="M64,3036H1161"/>
<path class="gd" d="M112,1271H74V3024"/><path class="gda" d="M74,3024H1160"/>
<path class="gd" d="M113,2127H84V3012"/><path class="gda" d="M84,3012H1163"/>
<path class="gd" d="M113,2710H94V3000"/><path class="gda" d="M94,3000H1171"/>
</g>

<!-- graph labels -->
<g id="graph-labels" class="m f20">
<text class="t f16 c" x="1079" y="935" style="font-style:normal">ReLU</text>
<text class="f14 c" x="1112" y="770">D</text><text class="up c" x="1112" y="802" style="font-size:34px">∑</text><text class="f14 c" x="1112" y="818">d</text>
<text x="1128" y="798">x<tspan class="b">(n)(d)</tspan> * w<tspan class="b">(m)(d)</tspan></text>
<text class="c" x="1030" y="1476">∂e<tspan class="b">(n)(m=0)</tspan></text><line class="fl" x1="982" y1="1487" x2="1079" y2="1487"/><text class="c" x="1030" y="1511">∂a<tspan class="b">(n)(m=0)</tspan></text>
<text x="1085" y="1494">= e<tspan class="b">(n)(m=0)</tspan></text>
<text x="1122" y="1580">exp(a<tspan class="b">(n)(m=0)</tspan>)</text>
<text x="1333" y="1580">exp(a<tspan class="b">(n)(m=1)</tspan>)</text>
<text class="c" x="934" y="1664">∂s<tspan class="b">(n)</tspan></text><line class="fl" x1="888" y1="1673" x2="981" y2="1673"/><text class="c" x="934" y="1697">∂e<tspan class="b">(n)(m=0)</tspan></text>
<text x="986" y="1681">= 1</text>
<text class="f12 c" x="964" y="1762">M−1</text><text class="up c" x="964" y="1797" style="font-size:32px">∑</text><text class="f12 c" x="964" y="1812">m=0</text>
<text class="f18" x="983" y="1788">e<tspan class="b">(n)(m)</tspan></text>
<text x="856" y="1857">∂s</text><text class="f13" x="876" y="1848">−1</text><text class="f13" x="876" y="1862">(n)</text><line class="fl" x1="855" y1="1867" x2="902" y2="1867"/><text class="c" x="878" y="1893">∂s<tspan class="b">(n)</tspan></text>
<text x="910" y="1874">=</text>
<text class="c" x="955" y="1858">−1</text><line class="fl" x1="938" y1="1867" x2="972" y2="1867"/><text x="942" y="1893">s</text><text class="f13" x="951" y="1883">2</text><text class="f13" x="950" y="1898">(n)</text>
<text class="c" x="1050" y="1858">∂p<tspan class="b">(n)(m=0)</tspan></text><line class="fl" x1="1002" y1="1867" x2="1097" y2="1867"/><text class="c" x="1050" y="1893">∂e<tspan class="b">(n)(m=0)</tspan></text>
<text x="1105" y="1874">=</text>
<text class="c" x="1149" y="1858">1</text><line class="fl" x1="1132" y1="1867" x2="1166" y2="1867"/><text class="c" x="1149" y="1893">s<tspan class="b">(n)</tspan></text>
<text class="c" x="913" y="2099">∂p<tspan class="b">(n)(m=0)</tspan></text><line class="fl" x1="863" y1="2108" x2="957" y2="2108"/><text x="893" y="2139">∂s</text><text class="f13" x="913" y="2130">−1</text><text class="f13" x="913" y="2144">(n)</text>
<text x="964" y="2116">= e<tspan class="b">(n)(m=0)</tspan></text>
<text x="1149" y="2122">e<tspan class="b">(n)(m=1)</tspan></text>
<text class="c" x="1175" y="2197">e<tspan class="b">(n)(m=0)</tspan></text><line class="fl" x1="1135" y1="2205" x2="1215" y2="2205"/><text class="c" x="1175" y="2229">s<tspan class="b">(n)</tspan></text>
<text class="c" x="1392" y="2197">e<tspan class="b">(n)(m=1)</tspan></text><line class="fl" x1="1352" y1="2205" x2="1433" y2="2205"/><text class="c" x="1392" y="2229">s<tspan class="b">(n)</tspan></text>
<text class="c" x="938" y="2297">∂ ln(p<tspan class="b">(n)(m=0)</tspan>)</text><line class="fl" x1="870" y1="2306" x2="1007" y2="2306"/><text class="c" x="938" y="2331">∂p<tspan class="b">(n)(m=0)</tspan></text>
<text x="1015" y="2313">=</text>
<text class="c" x="1083" y="2297">1</text><line class="fl" x1="1042" y1="2306" x2="1125" y2="2306"/><text class="c" x="1083" y="2331">p<tspan class="b">(n)(m=0)</tspan></text>
<text class="f22" x="1141" y="2437">ln(p<tspan class="b">(n)(m)</tspan>)</text>
<text class="c" x="926" y="2512">∂(−t<tspan class="b">(n)(m=0)</tspan> * ln)</text><line class="fl" x1="843" y1="2521" x2="1009" y2="2521"/><text class="c" x="926" y="2546">∂ ln</text>
<text x="1015" y="2529">= −t<tspan class="b">(n)(m=0)</tspan></text>
<text class="c" x="1197" y="2594">−t<tspan class="b">(n)(m)</tspan></text><text class="c" x="1197" y="2620">*</text><text class="c" x="1197" y="2648">ln(p<tspan class="b">(n)(m)</tspan>)</text>
<text class="c" x="1067" y="2686">∂∑(t * ln)</text><line class="fl" x1="1016" y1="2695" x2="1119" y2="2695"/><text class="c" x="1067" y="2719">∂(t * ln)</text>
<text x="1126" y="2702">= 1</text>
<text class="c" x="1160" y="2884">∂L</text><line class="fl" x1="1138" y1="2893" x2="1183" y2="2893"/><text class="c" x="1160" y="2918">∂j<tspan class="b">(n)</tspan></text>
<text x="1190" y="2900">=</text>
<text class="c" x="1230" y="2884">1</text><line class="fl" x1="1220" y1="2893" x2="1240" y2="2893"/><text class="c" x="1230" y="2918">N</text>
</g>

<!-- bottom brackets and captions -->
<g id="footer" class="t">
<path d="M44,3073V3093H1353V3073" fill="none" stroke="#006600" stroke-width="2"/>
<path d="M1383,3078V3093H2743V3078" fill="none" stroke="#FF0080" stroke-width="2"/>
<text class="c gr" x="740" y="3138" style="font-size:30px">Gradients (Back Propagation)</text>
<text class="c pkt" x="2063" y="3138" style="font-size:30px">Objective (Forward Propagation to calculate the loss)</text>
<text class="bd" x="364" y="3187" style="font-size:25px">When <tspan class="rd">T = 0</tspan> and the input <tspan class="rd">X is a scalar</tspan>, then <tspan class="rd">the gradient is always 0</tspan></text>
<text x="364" y="3217" style="font-size:25px">because the gradient <tspan class="rd bd">-T/P</tspan> at the log loss is always 0.</text>
<text x="1426" y="3187" style="font-size:24px">The loss is <tspan class="rd bd">independent from the batch size N</tspan>, because it is averaged by N.</text>
<text x="1426" y="3217" style="font-size:24px">Hence the <tspan class="rd bd">back-propagation from L is 1/N</tspan> because whjen f(X) = X/N, df(X)/dX = 1/N</text>
</g>
</svg>
